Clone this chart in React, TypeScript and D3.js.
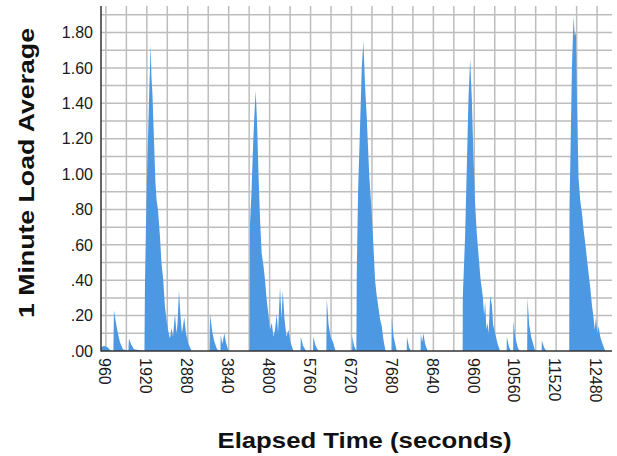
import * as d3 from "d3";

const elapsedSeconds: number[] = [
  845, 913, 1007, 1077,
  1136, 1148, 1195, 1242, 1289, 1359,
  1488, 1500, 1547, 1617,
  1864, 1876, 1899, 1930, 1958, 1981, 2010, 2028, 2052, 2087, 2122, 2150, 2181, 2227, 2263, 2305, 2345, 2385, 2415,
  2462, 2502, 2533, 2580, 2615, 2639, 2673, 2709, 2744, 2798, 2838, 2896, 2971,
  3389, 3401, 3448, 3495, 3565,
  3647, 3652, 3694, 3736, 3776, 3835,
  4328, 4340, 4375, 4410, 4445, 4473, 4504, 4539, 4574, 4614, 4656, 4692, 4727, 4769, 4809, 4849, 4891, 4926, 4966, 4997, 5044, 5079, 5107, 5149, 5196, 5239, 5290, 5356,
  5525, 5530, 5584, 5654,
  5818, 5825, 5877, 5947,
  6130, 6140, 6182, 6229, 6288, 6346,
  6733, 6741, 6780, 6834,
  6844, 6874, 6921, 6961, 6998, 7038, 7078, 7108, 7139, 7195, 7238, 7273, 7308, 7350, 7390, 7430, 7472, 7519,
  7660, 7664, 7707, 7782,
  8017, 8021, 8071, 8118,
  8341, 8346, 8377, 8407, 8447, 8506,
  9327, 9331, 9385, 9425, 9463, 9503, 9543, 9580, 9620, 9655, 9697, 9749, 9800, 9831, 9854, 9885, 9909, 9937, 9972, 10012, 10042, 10089, 10148, 10207,
  10359, 10364, 10418, 10465,
  10512, 10519, 10559, 10618, 10664,
  10840, 10848, 10887, 10934, 10981, 11028,
  11180, 11184, 11238, 11287,
  11827, 11834, 11862, 11890, 11928, 11956, 11984, 12008, 12045, 12085, 12125, 12167, 12202, 12261, 12319, 12359, 12397, 12425, 12453, 12484, 12514, 12554, 12594, 12671,
];

const loadAverage: number[] = [
  0.02, 0.03, 0.02, 0,
  0, 0.23, 0.16, 0.1, 0.05, 0.01,
  0, 0.07, 0.04, 0.01,
  0, 0.38, 0.7, 1.05, 1.3, 1.5, 1.73, 1.55, 1.45, 1.2, 0.95, 0.85, 0.8, 0.65, 0.5, 0.4, 0.25, 0.17, 0.12,
  0.07, 0.13, 0.08, 0.21, 0.1, 0.15, 0.34, 0.2, 0.1, 0.19, 0.1, 0.04, 0,
  0, 0.21, 0.12, 0.06, 0.01,
  0, 0.09, 0.04, 0.1, 0.05, 0,
  0, 0.72, 0.9, 1.15, 1.35, 1.47, 1.3, 1.0, 0.75, 0.55, 0.48, 0.4, 0.3, 0.21, 0.12, 0.16, 0.08, 0.12, 0.21, 0.1, 0.36, 0.18, 0.34, 0.18, 0.08, 0.12, 0.05, 0,
  0, 0.08, 0.03, 0,
  0, 0.08, 0.03, 0,
  0, 0.3, 0.15, 0.08, 0.05, 0,
  0, 0.08, 0.03, 0,
  0.45, 0.9, 1.27, 1.6, 1.75, 1.5, 1.32, 1.15, 0.98, 0.78, 0.58, 0.4, 0.32, 0.25, 0.18, 0.14, 0.06, 0,
  0, 0.19, 0.08, 0,
  0, 0.08, 0.02, 0,
  0, 0.1, 0.05, 0.1, 0.04, 0,
  0, 0.31, 0.65, 1.04, 1.42, 1.65, 1.42, 1.1, 0.83, 0.68, 0.55, 0.4, 0.31, 0.2, 0.28, 0.12, 0.16, 0.1, 0.31, 0.26, 0.15, 0.1, 0.04, 0,
  0, 0.08, 0.02, 0,
  0, 0.17, 0.08, 0.02, 0,
  0, 0.3, 0.15, 0.08, 0.04, 0,
  0, 0.06, 0.02, 0,
  0, 0.83, 1.2, 1.6, 1.89, 1.78, 1.8, 1.42, 0.98, 0.85, 0.78, 0.68, 0.61, 0.48, 0.36, 0.26, 0.19, 0.12, 0.19, 0.1, 0.14, 0.08, 0.05, 0,
];

const xTickValues = [960, 1920, 2880, 3840, 4800, 5760, 6720, 7680, 8640, 9600, 10560, 11520, 12480];
const yTickValues = [0, 0.2, 0.4, 0.6, 0.8, 1.0, 1.2, 1.4, 1.6, 1.8];

const width = 617;
const height = 456;
const margin = { top: 6, right: 5, bottom: 105, left: 101 };
const font = "'Liberation Sans', Arial, sans-serif";

export default function App() {
  const x = d3.scaleLinear().domain([845, 12830]).range([margin.left, width - margin.right]);
  const y = d3.scaleLinear().domain([0, 1.95]).range([height - margin.bottom, margin.top]);

  const points = elapsedSeconds.map((t, i) => ({ t, v: loadAverage[i] }));
  const area = d3
    .area<{ t: number; v: number }>()
    .x((d) => x(d.t))
    .y0(y(0))
    .y1((d) => y(d.v));

  const xGrid = d3.range(960, 12830, 480);
  const yGrid = d3.range(1, 20).map((k) => k / 10);
  const fmtY = (v: number) => d3.format(".2f")(v).replace(/^0/, "");

  const x0 = margin.left;
  const x1 = width - margin.right;
  const y0 = y(0);

  return (
    <svg width={width} height={height} style={{ position: "absolute", left: 0, top: 0, background: "#fff" }}>
      <g stroke="#bdbdbd" strokeWidth={1.5}>
        {xGrid.map((t) => (
          <line key={"gx" + t} x1={x(t)} x2={x(t)} y1={margin.top} y2={y0} />
        ))}
        {yGrid.map((v) => (
          <line key={"gy" + v} x1={x0} x2={x1} y1={y(v)} y2={y(v)} />
        ))}
      </g>
      <path d={area(points) ?? ""} fill="#4c98e3" />
      <line x1={x0} x2={x0} y1={margin.top} y2={y0 + 0.5} stroke="#333" strokeWidth={1.5} />
      <line x1={x0} x2={x1} y1={y0} y2={y0} stroke="#333" strokeWidth={1.5} />
      <g fontFamily={font} fontSize={16} fill="#1a1a1a">
        {yTickValues.map((v) => (
          <text key={"ty" + v} x={93} y={y(v)} dy="0.36em" textAnchor="end">
            {fmtY(v)}
          </text>
        ))}
        {xTickValues.map((t) => (
          <text
            key={"tx" + t}
            transform={`translate(${x(t) - 1},358) rotate(90)`}
            dy="0.36em"
            textAnchor="start"
          >
            {t}
          </text>
        ))}
      </g>
      <text
        x={364.5}
        y={448}
        textAnchor="middle"
        fontFamily={font}
        fontSize={22}
        fontWeight="bold"
        textLength={294}
        lengthAdjust="spacingAndGlyphs"
        fill="#111"
      >
        Elapsed Time (seconds)
      </text>
      <text
        transform="translate(33.5,173) rotate(-90)"
        textAnchor="middle"
        fontFamily={font}
        fontSize={22}
        fontWeight="bold"
        textLength={290}
        lengthAdjust="spacingAndGlyphs"
        fill="#111"
      >
        1 Minute Load Average
      </text>
    </svg>
  );
}
